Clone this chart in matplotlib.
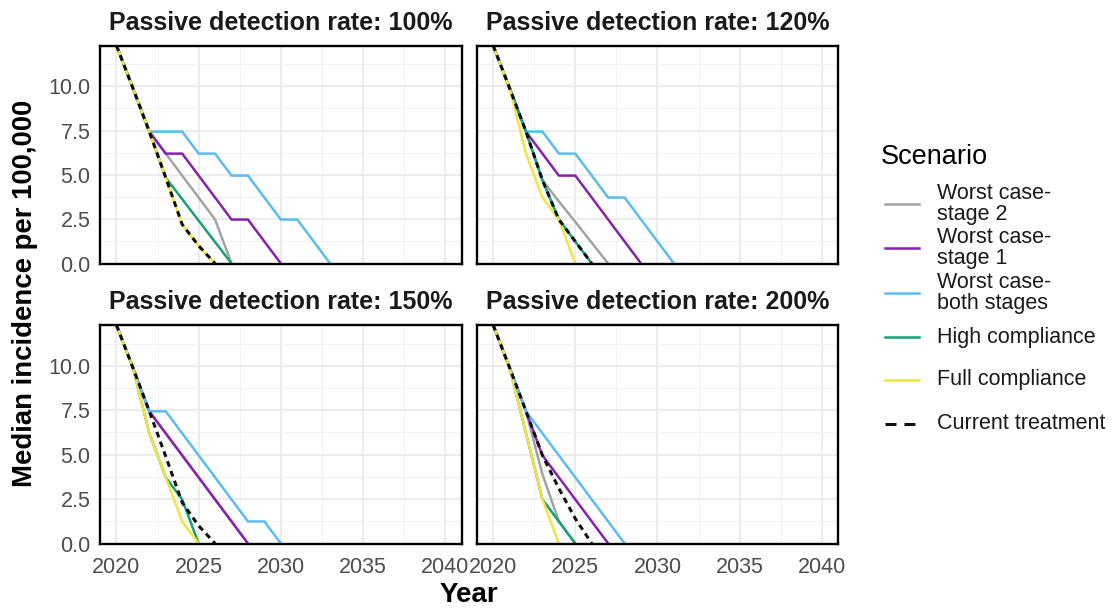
import matplotlib
matplotlib.use("Agg")
import matplotlib.pyplot as plt
from matplotlib.lines import Line2D
from matplotlib.ticker import MultipleLocator, FixedLocator

plt.rcParams["font.family"] = ["Liberation Sans", "DejaVu Sans"]

START_YEAR = 2020
PANEL_TITLES = [
    "Passive detection rate: 100%",
    "Passive detection rate: 120%",
    "Passive detection rate: 150%",
    "Passive detection rate: 200%",
]
SCENARIOS = [
    "Worst case-\nstage 2",
    "Worst case-\nstage 1",
    "Worst case-\nboth stages",
    "High compliance",
    "Full compliance",
    "Current treatment",
]
COLORS = ["#a3a3a3", "#8522b0", "#5cbcef", "#18a077", "#f1e443", "#111111"]

# median incidence per 100,000, one value per year from 2020 until it hits 0
stage2 = [
    [12.3, 9.9, 7.44, 6.2, 4.96, 3.72, 2.48, 0],
    [12.3, 9.9, 7.44, 4.7, 3.5, 2.35, 1.17, 0],
    [12.3, 9.9, 7.44, 6.2, 4.96, 3.72, 2.48, 1.24, 0],
    [12.3, 9.9, 7.44, 3.9, 1.24, 0],
]
stage1 = [
    [12.3, 9.9, 7.44, 6.2, 6.2, 4.96, 3.72, 2.48, 2.48, 1.24, 0],
    [12.3, 9.9, 7.44, 6.2, 4.96, 4.96, 3.72, 2.48, 1.24, 0],
    [12.3, 9.9, 7.44, 6.2, 4.96, 3.72, 2.48, 1.24, 0],
    [12.3, 9.9, 7.44, 4.96, 3.72, 2.48, 1.24, 0],
]
both_stages = [
    [12.3, 9.9, 7.44, 7.44, 7.44, 6.2, 6.2, 4.96, 4.96, 3.72, 2.48, 2.48, 1.24, 0],
    [12.3, 9.9, 7.44, 7.44, 6.2, 6.2, 4.96, 3.72, 3.72, 2.48, 1.24, 0],
    [12.3, 9.9, 7.44, 7.44, 6.2, 4.96, 3.72, 2.48, 1.24, 1.24, 0],
    [12.3, 9.9, 7.44, 6.2, 4.96, 3.72, 2.48, 1.24, 0],
]
high_compliance = [
    [12.3, 9.9, 7.44, 4.84, 3.63, 2.42, 1.21, 0],
    [12.3, 9.9, 7.44, 4.7, 2.48, 1.24, 0],
    [12.3, 9.9, 6.2, 3.72, 2.48, 0],
    [12.3, 9.9, 6.2, 2.48, 1.24, 0],
]
full_compliance = [
    [12.3, 9.9, 7.44, 4.84, 2.2, 1.0, 0],
    [12.3, 9.9, 6.2, 3.72, 2.48, 0],
    [12.3, 9.9, 6.2, 3.72, 1.24, 0],
    [12.3, 9.9, 6.2, 2.48, 0],
]
current_treatment = [
    [12.3, 9.9, 7.44, 4.84, 2.2, 1.0, 0],
    [12.3, 9.9, 7.44, 4.7, 2.48, 1.24, 0],
    [12.3, 9.9, 7.44, 4.9, 2.3, 1.0, 0],
    [12.3, 9.9, 7.44, 4.96, 3.1, 1.4, 0],
]
SERIES = [stage2, stage1, both_stages, high_compliance, full_compliance, current_treatment]

X_TICKS = [2020, 2025, 2030, 2035, 2040]
Y_TICKS = [0, 2.5, 5.0, 7.5, 10.0]

W, H = 1112, 610
LW = 1.8
DASH_LW = 2.2
DASH = (0, (1.9, 1.5))


def px_rect(left, top, right, bottom):
    return [left / W, 1 - bottom / H, (right - left) / W, (bottom - top) / H]


fig = plt.figure(figsize=(W / 100, H / 100), dpi=100)
rects = [
    px_rect(100, 45.5, 461.7, 263.5),
    px_rect(476.7, 45.5, 838.3, 263.5),
    px_rect(100, 325, 461.7, 543.5),
    px_rect(476.7, 325, 838.3, 543.5),
]

for p, rect in enumerate(rects):
    ax = fig.add_axes(rect)
    for s, series in enumerate(SERIES):
        vals = series[p]
        years = [START_YEAR + i for i in range(len(vals))]
        if s == 5:
            ax.plot(years, vals, color=COLORS[s], lw=DASH_LW, ls=DASH,
                    dash_capstyle="butt", zorder=3)
        else:
            ax.plot(years, vals, color=COLORS[s], lw=LW, ls="-",
                    solid_capstyle="butt", zorder=2 + s * 0.1)
    ax.set_xlim(2019, 2041)
    ax.set_ylim(0, 12.3)
    ax.xaxis.set_major_locator(FixedLocator(X_TICKS))
    ax.xaxis.set_minor_locator(MultipleLocator(2.5))
    ax.yaxis.set_major_locator(FixedLocator(Y_TICKS))
    ax.yaxis.set_minor_locator(MultipleLocator(1.25))
    ax.grid(which="major", color="#ebebeb", lw=1.3, zorder=0)
    ax.grid(which="minor", color="#f2f2f2", lw=0.7, zorder=0)
    ax.set_axisbelow(True)
    for sp in ax.spines.values():
        sp.set_linewidth(1.7)
        sp.set_color("black")
        sp.set_zorder(5)
    ax.tick_params(which="both", length=0, labelsize=15.5, labelcolor="#4d4d4d")
    ax.tick_params(axis="x", pad=10)
    ax.tick_params(axis="y", pad=7)
    if p in (0, 1):
        ax.set_xticklabels([])
    else:
        ax.set_xticklabels([str(t) for t in X_TICKS])
    if p in (1, 3):
        ax.set_yticklabels([])
    else:
        ax.set_yticklabels([f"{t:.1f}" for t in Y_TICKS])
    ax.text(0.5, 1.0 + 11 / 218, PANEL_TITLES[p], transform=ax.transAxes,
            ha="center", va="bottom", fontsize=18, fontweight="bold",
            color="#1a1a1a")

fig.text(25 / W, 1 - 293 / H, "Median incidence per 100,000", rotation=90,
         ha="center", va="center", fontsize=19.8, fontweight="bold")
fig.text(469 / W, 1 - 595 / H, "Year", ha="center", va="center",
         fontsize=20, fontweight="bold")

# legend
fig.text(881 / W, 1 - 157 / H, "Scenario", ha="left", va="center", fontsize=19.5)
key_y = [204, 248, 293, 337, 380, 423.5]
for s, label in enumerate(SCENARIOS):
    y = 1 - key_y[s] / H
    if s == 5:
        key = Line2D([885 / W, 919 / W], [y, y], color=COLORS[s], lw=DASH_LW,
                     ls=(0, (3.6, 2.6)), dash_capstyle="butt",
                     transform=fig.transFigure)
    else:
        key = Line2D([885 / W, 919 / W], [y, y], color=COLORS[s], lw=LW,
                     transform=fig.transFigure)
    fig.add_artist(key)
    fig.text(937 / W, y, label, ha="left", va="center", fontsize=15.5,
             color="#1a1a1a", linespacing=1.05)

fig.savefig("out.png", dpi=100)
